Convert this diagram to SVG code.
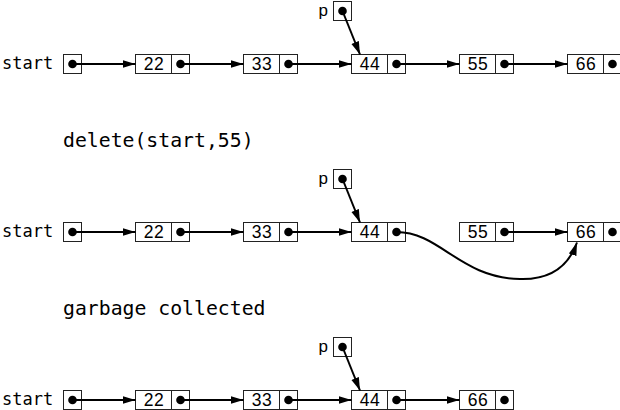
<svg xmlns="http://www.w3.org/2000/svg" width="620" height="410" viewBox="0 0 620 410">
<defs>
<marker id="ah" markerUnits="userSpaceOnUse" markerWidth="14" markerHeight="9" refX="13" refY="4" orient="auto">
<path d="M0,0 L13,4 L0,8 z" fill="#000"/>
</marker>
<style>
.box{fill:#fff;stroke:#222;stroke-width:1}
.dv{stroke:#222;stroke-width:1}
.dot{fill:#000}
.num{font-family:"Liberation Sans",Arial,sans-serif;font-size:17.5px;text-anchor:middle;fill:#000;letter-spacing:0.5px}
.lbl{font-family:"DejaVu Sans Mono",monospace;font-size:17px;fill:#000}
.cap{font-family:"DejaVu Sans Mono",monospace;font-size:19.8px;fill:#000}
.p{font-family:"Liberation Sans",Arial,sans-serif;font-size:17px;fill:#000;text-anchor:end}
.ar{stroke:#000;stroke-width:2;fill:none;marker-end:url(#ah)}
</style>
</defs>
<rect width="620" height="410" fill="#fff"/>

<text class="cap" x="63" y="147">delete(start,55)</text>
<text class="cap" x="63" y="315">garbage collected</text>

<!-- Row 1 -->
<g id="r1-start"><text class="lbl" x="2" y="69">start</text><rect class="box" x="63.5" y="54.5" width="18" height="19"/><circle class="dot" cx="72.5" cy="64" r="4.3"/></g>
<g id="r1-n22"><rect class="box" x="135.5" y="54.5" width="54" height="19"/><line class="dv" x1="171.5" y1="54.5" x2="171.5" y2="73.5"/><text class="num" x="154" y="70">22</text><circle class="dot" cx="180.5" cy="64" r="4.3"/></g>
<g id="r1-n33"><rect class="box" x="243.5" y="54.5" width="54" height="19"/><line class="dv" x1="279.5" y1="54.5" x2="279.5" y2="73.5"/><text class="num" x="262" y="70">33</text><circle class="dot" cx="288.5" cy="64" r="4.3"/></g>
<g id="r1-n44"><rect class="box" x="351.5" y="54.5" width="54" height="19"/><line class="dv" x1="387.5" y1="54.5" x2="387.5" y2="73.5"/><text class="num" x="370" y="70">44</text><circle class="dot" cx="396.5" cy="64" r="4.3"/></g>
<g id="r1-n55"><rect class="box" x="459.5" y="54.5" width="54" height="19"/><line class="dv" x1="495.5" y1="54.5" x2="495.5" y2="73.5"/><text class="num" x="478" y="70">55</text><circle class="dot" cx="504.5" cy="64" r="4.3"/></g>
<g id="r1-n66"><rect class="box" x="567.5" y="54.5" width="54" height="19"/><line class="dv" x1="603.5" y1="54.5" x2="603.5" y2="73.5"/><text class="num" x="586" y="70">66</text><circle class="dot" cx="612.5" cy="64" r="4.3"/></g>
<g id="r1-p"><text class="p" x="328" y="16">p</text><rect class="box" x="333.5" y="1.5" width="18" height="19"/><circle class="dot" cx="342.5" cy="11" r="4.3"/></g>

<!-- Row 2 -->
<g id="r2-start"><text class="lbl" x="2" y="237">start</text><rect class="box" x="63.5" y="222.5" width="18" height="19"/><circle class="dot" cx="72.5" cy="232" r="4.3"/></g>
<g id="r2-n22"><rect class="box" x="135.5" y="222.5" width="54" height="19"/><line class="dv" x1="171.5" y1="222.5" x2="171.5" y2="241.5"/><text class="num" x="154" y="238">22</text><circle class="dot" cx="180.5" cy="232" r="4.3"/></g>
<g id="r2-n33"><rect class="box" x="243.5" y="222.5" width="54" height="19"/><line class="dv" x1="279.5" y1="222.5" x2="279.5" y2="241.5"/><text class="num" x="262" y="238">33</text><circle class="dot" cx="288.5" cy="232" r="4.3"/></g>
<g id="r2-n44"><rect class="box" x="351.5" y="222.5" width="54" height="19"/><line class="dv" x1="387.5" y1="222.5" x2="387.5" y2="241.5"/><text class="num" x="370" y="238">44</text><circle class="dot" cx="396.5" cy="232" r="4.3"/></g>
<g id="r2-n55"><rect class="box" x="459.5" y="222.5" width="54" height="19"/><line class="dv" x1="495.5" y1="222.5" x2="495.5" y2="241.5"/><text class="num" x="478" y="238">55</text><circle class="dot" cx="504.5" cy="232" r="4.3"/></g>
<g id="r2-n66"><rect class="box" x="567.5" y="222.5" width="54" height="19"/><line class="dv" x1="603.5" y1="222.5" x2="603.5" y2="241.5"/><text class="num" x="586" y="238">66</text><circle class="dot" cx="612.5" cy="232" r="4.3"/></g>
<g id="r2-p"><text class="p" x="328" y="184">p</text><rect class="box" x="333.5" y="169.5" width="18" height="19"/><circle class="dot" cx="342.5" cy="179" r="4.3"/></g>

<!-- Row 3 -->
<g id="r3-start"><text class="lbl" x="2" y="405">start</text><rect class="box" x="63.5" y="390.5" width="18" height="19"/><circle class="dot" cx="72.5" cy="400" r="4.3"/></g>
<g id="r3-n22"><rect class="box" x="135.5" y="390.5" width="54" height="19"/><line class="dv" x1="171.5" y1="390.5" x2="171.5" y2="409.5"/><text class="num" x="154" y="406">22</text><circle class="dot" cx="180.5" cy="400" r="4.3"/></g>
<g id="r3-n33"><rect class="box" x="243.5" y="390.5" width="54" height="19"/><line class="dv" x1="279.5" y1="390.5" x2="279.5" y2="409.5"/><text class="num" x="262" y="406">33</text><circle class="dot" cx="288.5" cy="400" r="4.3"/></g>
<g id="r3-n44"><rect class="box" x="351.5" y="390.5" width="54" height="19"/><line class="dv" x1="387.5" y1="390.5" x2="387.5" y2="409.5"/><text class="num" x="370" y="406">44</text><circle class="dot" cx="396.5" cy="400" r="4.3"/></g>
<g id="r3-n66"><rect class="box" x="459.5" y="390.5" width="54" height="19"/><line class="dv" x1="495.5" y1="390.5" x2="495.5" y2="409.5"/><text class="num" x="478" y="406">66</text><circle class="dot" cx="504.5" cy="400" r="4.3"/></g>
<g id="r3-p"><text class="p" x="328" y="352">p</text><rect class="box" x="333.5" y="337.5" width="18" height="19"/><circle class="dot" cx="342.5" cy="347" r="4.3"/></g>

<g id="connectors">
<line class="ar" x1="72.5" y1="64" x2="135.5" y2="64"/>
<line class="ar" x1="180.5" y1="64" x2="243.5" y2="64"/>
<line class="ar" x1="288.5" y1="64" x2="351.5" y2="64"/>
<line class="ar" x1="396.5" y1="64" x2="459.5" y2="64"/>
<line class="ar" x1="504.5" y1="64" x2="567.5" y2="64"/>
<line class="ar" x1="342.5" y1="11" x2="360" y2="54.5"/>

<line class="ar" x1="72.5" y1="232" x2="135.5" y2="232"/>
<line class="ar" x1="180.5" y1="232" x2="243.5" y2="232"/>
<line class="ar" x1="288.5" y1="232" x2="351.5" y2="232"/>
<line class="ar" x1="504.5" y1="232" x2="567.5" y2="232"/>
<line class="ar" x1="342.5" y1="179" x2="360" y2="222.5"/>
<path class="ar" d="M396.5,232 C440,232 460,278 520,279 C555,280 570,262 577,242.5"/>

<line class="ar" x1="72.5" y1="400" x2="135.5" y2="400"/>
<line class="ar" x1="180.5" y1="400" x2="243.5" y2="400"/>
<line class="ar" x1="288.5" y1="400" x2="351.5" y2="400"/>
<line class="ar" x1="396.5" y1="400" x2="459.5" y2="400"/>
<line class="ar" x1="342.5" y1="347" x2="360" y2="390.5"/>
</g>
</svg>
